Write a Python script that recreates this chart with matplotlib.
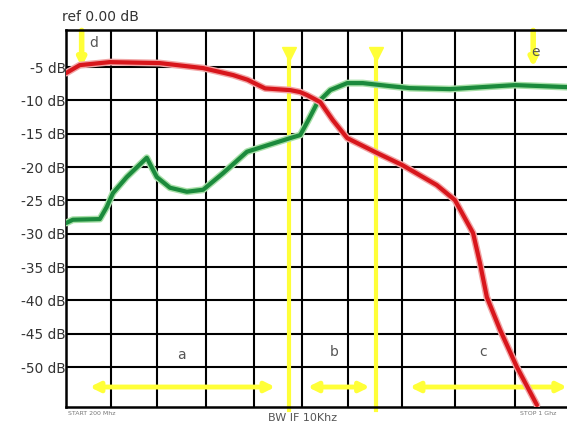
import numpy as np
import matplotlib.pyplot as plt
import matplotlib.patheffects as pe

# Datos (frecuencia en MHz, nivel en dB)
rojo_f = [200, 222, 270, 350, 419, 467, 490, 505, 518, 558, 574, 585, 606, 626,
          649, 697, 737, 792, 821, 850, 861, 872, 893, 920, 952]
rojo_db = [-5.9, -4.7, -4.25, -4.4, -5.15, -6.2, -6.9, -7.6, -8.2, -8.45, -8.75,
           -9.2, -10.25, -12.95, -15.65, -17.9, -19.7, -22.7, -24.95, -29.9,
           -34.4, -39.5, -44.4, -50.0, -55.7]

verde_f = [200, 211, 254, 265, 275, 297, 329, 345, 366, 393, 419, 451, 489, 526,
           558, 574, 587, 601, 622, 649, 674, 717, 749, 813, 917, 1000]
verde_db = [-28.4, -27.9, -27.8, -26.0, -23.9, -21.5, -18.6, -21.5, -23.1, -23.7,
            -23.4, -20.9, -17.7, -16.6, -15.65, -15.2, -12.95, -10.4, -8.45,
            -7.4, -7.4, -7.85, -8.15, -8.3, -7.7, -8.0]

# Rejilla vertical irregular y niveles horizontales
rejilla_f = [272, 345, 424, 500, 577, 650, 737, 821, 917]
niveles_db = [-5, -10, -15, -20, -25, -30, -35, -40, -45, -50]
etiquetas_db = ["%d dB" % n for n in niveles_db]

# Marcadores amarillos
marcadores_f = [556, 695]
rangos = {"a": (238, 534), "b": (586, 685), "c": (749, 1000)}
letras = {"a": (384, -48.2), "b": (628, -47.8), "c": (866, -47.8),
          "d": (245, -1.4), "e": (949, -2.8)}
flechas_cortas_f = [225, 946]

amarillo = "#ffff38"

fig = plt.figure(figsize=(5.67, 4.23), dpi=100)
ax = fig.add_axes([0.1164, 0.0378, 0.8836, 0.891])
ax.set_xlim(200, 1000)
ax.set_ylim(-56, 0.55)

ax.set_xticks(rejilla_f)
ax.set_xticklabels([])
ax.set_yticks(niveles_db)
ax.set_yticklabels(etiquetas_db, fontsize=9.8, color="#333333")
ax.tick_params(length=0, pad=0)
ax.grid(True, color="black", lw=1.5)
ax.set_axisbelow(True)
for lado in ["left", "top", "bottom"]:
    ax.spines[lado].set_linewidth(1.8)
ax.spines["right"].set_visible(False)

# Lineas verticales de marcador
for f in marcadores_f:
    ax.plot([f, f], [-2.5, -56.5], color=amarillo, lw=3, zorder=2, clip_on=False)
    ax.plot(f, -3.0, marker="v", ms=10, color=amarillo, zorder=2)

# Flechas cortas d y e
for f in flechas_cortas_f:
    ax.annotate("", xy=(f, -5.0), xytext=(f, 0.5),
                arrowprops=dict(arrowstyle="-|>", color=amarillo, lw=4,
                                mutation_scale=11, shrinkA=0, shrinkB=0),
                zorder=2)

# Flechas horizontales
for nombre, (f0, f1) in rangos.items():
    ax.annotate("", xy=(f1, -53.0), xytext=(f0, -53.0),
                arrowprops=dict(arrowstyle="<|-|>", color=amarillo, lw=3.5,
                                mutation_scale=14, shrinkA=0, shrinkB=0),
                zorder=2, annotation_clip=False)

ax.plot(verde_f, verde_db, color="#1b8a3c", lw=3, zorder=4,
        solid_capstyle="round", solid_joinstyle="round", clip_on=True,
        path_effects=[pe.Stroke(linewidth=5, foreground="#a8e0a8"), pe.Normal()])
ax.plot(rojo_f, rojo_db, color="#d8161c", lw=3, zorder=5,
        solid_capstyle="round", solid_joinstyle="round",
        path_effects=[pe.Stroke(linewidth=5, foreground="#f2a6a6"), pe.Normal()])

for letra, (f, db) in letras.items():
    ax.text(f, db, letra, fontsize=10, color="#555555", ha="center", va="center")

fig.text(62 / 567, 1 - 17 / 423, "ref 0.00 dB", fontsize=10, color="#333333",
         ha="left", va="center")
fig.text(68 / 567, 1 - 413 / 423, "START 200 Mhz", fontsize=4.5, color="#777777",
         ha="left", va="center")
fig.text(303 / 567, 1 - 418 / 423, "BW IF 10Khz", fontsize=8, color="#555555",
         ha="center", va="center")
fig.text(556 / 567, 1 - 413 / 423, "STOP 1 Ghz", fontsize=4.5, color="#777777",
         ha="right", va="center")

fig.savefig("out.png", dpi=100)
